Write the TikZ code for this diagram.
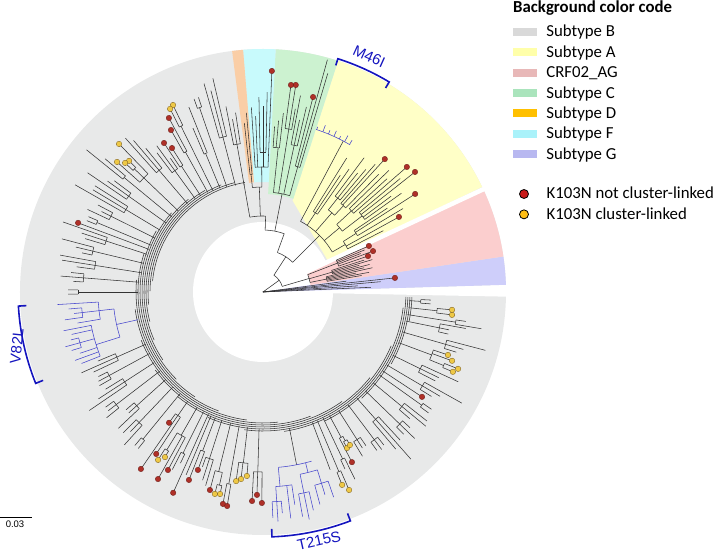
\documentclass[tikz,border=0pt]{standalone}
\usepackage{fontspec}
\setmainfont{Carlito}
\newfontfamily\arialfont{Liberation Sans}
\usepackage{tikz}
\usetikzlibrary{positioning}
\definecolor{bgB}{RGB}{232,233,233}
\definecolor{bgA}{RGB}{255,255,199}
\definecolor{bgAG}{RGB}{251,206,206}
\definecolor{bgC}{RGB}{204,242,208}
\definecolor{bgD}{RGB}{250,206,166}
\definecolor{bgF}{RGB}{200,250,252}
\definecolor{bgG}{RGB}{206,206,250}
\definecolor{legB}{RGB}{217,217,217}
\definecolor{legA}{RGB}{255,255,170}
\definecolor{legAG}{RGB}{232,184,184}
\definecolor{legC}{RGB}{170,228,188}
\definecolor{legD}{RGB}{255,192,0}
\definecolor{legF}{RGB}{170,242,250}
\definecolor{legG}{RGB}{184,184,240}
\definecolor{mutblue}{RGB}{20,20,190}
\definecolor{cladeblue}{RGB}{70,70,205}
\definecolor{dotred}{RGB}{175,48,40}
\definecolor{dotredline}{RGB}{100,25,20}
\definecolor{dotyel}{RGB}{238,200,70}
\definecolor{dotyelline}{RGB}{115,85,20}
\definecolor{legred}{RGB}{200,25,25}
\definecolor{legyel}{RGB}{255,190,20}
\tikzstyle{branch} = [draw=black!80, line width=0.55pt]
\tikzstyle{mutbranch} = [draw=cladeblue, line width=0.55pt]
\tikzstyle{notlinked} =
[circle, inner sep=0pt, minimum size=5.5pt, fill=dotred, draw=dotredline,
line width=0.3pt]
\tikzstyle{linked} =
[circle, inner sep=0pt, minimum size=5.5pt, fill=dotyel, draw=dotyelline,
line width=0.3pt]
\tikzstyle{bracket} = [draw=mutblue, line width=1.6pt]
\tikzstyle{mutlabel} =
[text=mutblue, inner sep=0pt, font=\arialfont\fontsize{15}{15}\selectfont]
\tikzstyle{swatch} =
[rectangle, minimum width=24pt, minimum height=8pt, inner sep=0pt]
\tikzstyle{legtext} =
[inner sep=0pt, text height=13pt, text depth=3pt,
font=\fontsize{16.8}{16.8}\selectfont]
\tikzstyle{legdot} =
[circle, inner sep=0pt, minimum size=9pt, draw=black, line width=0.8pt]
\tikzstyle{scaletext} =
[inner sep=0pt, font=\arialfont\fontsize{9.5}{9.5}\selectfont]
\newcommand{\subtypesector}[5]{%
  \fill[#1] (#2:#4) -- (#2:#5) arc[start angle=#2, end angle=#3, radius=#5]
    -- (#3:#4) arc[start angle=#3, end angle=#2, radius=#4] -- cycle;}

\begin{document}
\begin{tikzpicture}[x=1pt, y=1pt, node distance=20.35pt]
  \useasboundingbox (-263,-261) rectangle (452,292);
  % background sectors
  \fill[bgB] (0,0) circle (243);
  \fill[white] (0,0) circle (70);
  \subtypesector{white}{-1.1}{1.7}{0.01}{245}
  \subtypesector{bgG}{1.7}{8.4}{0.01}{243}
  \subtypesector{bgAG}{8.4}{24.5}{48}{243}
  \fill[bgA] (25.6:72) -- (25.6:243) arc[start angle=25.6, end angle=72, radius=243]
    -- (72:96) -- cycle;
  \subtypesector{bgC}{72}{87}{98}{243}
  \subtypesector{bgF}{87}{94.7}{110}{243}
  \subtypesector{bgD}{94.7}{97.3}{110}{243}
  \draw[white, line width=4.5pt] (25:46) -- (25:246);
  %
  % backbone and clade nodes
  \foreach \ga/\gb/\gr/\gs/\gf in {16.35/57/20/36/0, 11.5/21.2/48/16.35/20,
    9.5/13.5/65/11.5/48, 14.5/17.5/72/16/48, 18.9/23.5/80/21.2/48,
    45/70/42/57/20, 30/62/80/45/42, 27/32.2/95/30/80, 30.8/34/110/32.2/95,
    37.5/42.5/100/40/80, 35.5/39.6/125/37.5/100, 41/44/120/42.5/100,
    47/51.5/105/49/80, 45.5/48.7/118/47/105, 50/53/120/51.5/105,
    55/58/95/56.5/80, 70/88/62/70/42, 74.5/84/100/79/62,
    73.5/75.6/130/74.5/100, 76.8/79.2/150/78/100, 80/82.3/165/81/100,
    83.5/86/145/84/100, 88/100/76/88/62, 90.6/95.8/105/92/76,
    87.7/93.6/125/90.6/105, 88.8/91.2/140/90/125, 95.3/96.3/118/95.8/105,
    100/100/111/100/76, 135.6/136.9/178/136.25/165, 238/239.3/185/238.65/165,
    256.6/258/198/257.3/185, 298.3/299.6/170/298.95/165,
    337.2/338.5/195/337.85/180}{
    \draw[branch] (\gs:\gf) -- (\gs:\gr);
    \draw[branch] (\ga:\gr) arc[start angle=\ga, end angle=\gb, radius=\gr];
  }
  % leaves of the small subtypes
  \foreach \la/\lo/\le in {2.5/0/108, 3.7/0/95, 5/0/118, 7.4/0/84,
    9.5/65/100, 10.5/65/108, 11.5/65/95, 12.5/65/112, 13.5/65/104,
    14.5/72/110, 15.5/72/100, 16.5/72/114, 17.5/72/106, 21.5/80/105,
    22.5/80/110, 27/95/135, 30.8/110/163, 34/110/150, 35.5/125/170,
    36.8/125/160, 39.6/125/178, 42.4/120/168, 44/120/175, 45.5/118/165,
    48.7/118/170, 50/120/160, 51.5/120/152, 53/120/168, 55/95/150,
    56.5/95/140, 58/95/158, 62/80/171, 73.5/130/228, 74.5/130/241,
    76.8/150/190, 78/150/176, 79.2/150/200, 80/165/186, 83.5/145/180,
    84.8/145/172, 86/145/166, 88.8/140/200, 90/140/186, 91.2/140/195,
    92.4/125/176, 93.6/125/185, 95.3/118/180, 96.3/118/170, 281/139/176}{
    \draw[branch] (\la:\lo) -- (\la:\le);
  }
  %
  % subtype B spine
  \foreach \br in {111,113,...,149}{
    \pgfmathsetmacro\ta{98+260*((\br-110)/40)^1.4286}
    \pgfmathsetmacro\tb{min(\ta+75,358)}
    \draw[branch] (\ta:\br) arc[start angle=\ta, end angle=\tb, radius=\br];
  }
  % subtype B twigs
  \foreach \sa/\nl/\rn/\rl in {100/3/150/205, 104.5/3/160/238, 109/2/195/215,
    112.5/2/150/200, 126/3/150/190, 130.5/3/160/215, 140.5/2/180/228,
    144.5/3/165/215, 149/3/160/226, 153.5/3/170/210, 157.3/2/180/205,
    162/3/165/215, 166.5/3/175/212, 171/3/170/217, 175.5/3/180/210,
    180/2/185/205, 204/3/160/205, 208.5/3/175/200, 213/3/165/215,
    217.5/3/185/203, 222/3/170/208, 226.5/3/180/222, 230.8/2/190/212,
    243.6/2/180/205, 247.2/1/170/215, 252.2/3/175/212, 290.7/1/180/205,
    295.5/2/185/220, 302.5/3/175/200, 307/3/185/207, 311.5/3/170/226,
    316/3/190/215, 320.5/3/180/222, 324.5/2/195/220, 329.5/3/185/228,
    334/3/175/222, 344/3/190/232, 348.5/3/180/215, 351.1/2/195/225,
    356.6/2/158/170}{
    \pgfmathsetmacro\rb{110+40*((\sa-98)/260)^0.7-3}
    \pgfmathsetmacro\ha{(\nl-1)*0.65}
    \pgfmathsetmacro\aa{\sa-\ha}
    \pgfmathsetmacro\ab{\sa+\ha}
    \draw[branch] (\sa:\rb) -- (\sa:\rn);
    \draw[branch] (\aa:\rn) arc[start angle=\aa, end angle=\ab, radius=\rn];
    \foreach \j in {1,...,\nl}{
      \pgfmathsetmacro\lf{\aa+(\j-1)*1.3}
      \pgfmathsetmacro\rr{max(\rn+10,\rl-30*abs(sin(\lf*37)))}
      \draw[branch] (\lf:\rn) -- (\lf:\rr);
    }
  }
  % subtype B clades carrying K103N
  \foreach \ga/\gb/\gr in {115.7/116.9/185, 118.4/119.6/160, 122.3/123.6/150,
    134.2/138.3/165, 159.5/159.5/150, 234.3/236.6/150, 238.65/241.9/165,
    245.9/245.9/160, 248.5/249.9/170, 255/257.3/185, 259.3/260.5/195,
    261.9/265/172, 267/269.7/180, 292.3/293.5/195, 297.6/298.95/165,
    326.6/326.6/165, 337.85/341.2/180, 353.1/354.6/175}{
    \pgfmathsetmacro\gs{(\ga+\gb)/2}
    \pgfmathsetmacro\rb{110+40*((\gs-98)/260)^0.7-3}
    \draw[branch] (\gs:\rb) -- (\gs:\gr);
    \draw[branch] (\ga:\gr) arc[start angle=\ga, end angle=\gb, radius=\gr];
  }
  %
  % mutation clades (M46I, V82L, T215S)
  \foreach \ga/\gb/\gr/\gs/\gf in {59.4/71.9/171/62/171,
    186.5/197.5/150/192.5/128, 183.5/189.5/165/186.5/150,
    185/188/182/186.5/165, 191/201.5/175/197.5/150, 194/197/190/195.5/175,
    275/286/176/281/176, 273.75/278.5/195/275/176, 272.5/275/210/273.75/195,
    281.5/287/186/284/176, 280/283/205/281.5/186, 285/289/200/287/186}{
    \draw[mutbranch] (\gs:\gf) -- (\gs:\gr);
    \draw[mutbranch] (\ga:\gr) arc[start angle=\ga, end angle=\gb, radius=\gr];
  }
  \foreach \la/\lo/\le in {59.6/171/176, 61.5/171/178, 63.5/171/174,
    65.5/171/177, 67.5/171/175, 69.5/171/178, 71.7/171/174,
    183.5/165/206, 185/182/195, 186.5/182/190, 188/182/200, 189.5/165/188,
    191/175/203, 192.5/175/196, 194/190/198, 195.5/190/205, 197/190/200,
    198.5/175/193, 200/175/200, 201.5/175/195, 272.5/210/226,
    273.75/210/230, 275/210/222, 277/195/228, 278.5/195/215, 280/205/228,
    281.5/205/232, 283/205/224, 285/200/220, 287/200/212, 289/200/217}{
    \draw[mutbranch] (\la:\lo) -- (\la:\le);
  }
  %
  % K103N tips
  \foreach \ma/\mo/\me [count=\i] in {6.1/0/132.7, 18.9/80/111, 20.4/80/117.4,
    23.5/80/115.5, 28.9/95/155.3, 32.8/110/181, 38.3/125/193.7, 41/120/190.6,
    47.5/118/180.3, 75.6/130/201.3, 81/165/209.6, 82.3/165/208.9,
    87.7/125/221.2, 118.4/160/197.8, 119.6/160/186.3, 122.3/150/170.3,
    123.6/150/178.9, 159.5/150/197.4, 234.3/150/161, 235.4/150/215,
    236.6/150/194, 240.7/165/214.5, 241.9/165/201.8, 245.9/160/220,
    248.5/170/202, 249.9/170/189.5, 255/185/205, 259.3/195/215.7,
    260.5/195/217, 267/180/209.3, 268.3/180/203, 269.7/180/211,
    297.6/165/192, 326.6/165/190.5}{
    \draw[branch] (\ma:\mo) -- (\ma:\me);
    \node[notlinked] (nl\i) at (\ma:\me) {};
  }
  \foreach \ma/\mo/\me [count=\i] in {115.7/185/207.5, 116.9/185/205.3,
    134.2/165/206.5, 135.6/178/187.4, 136.9/178/188.9, 138.3/165/195.5,
    238/185/198, 239.3/185/192, 256.6/198/207.6, 258/198/206.5,
    261.9/172/191, 263.3/172/188.3, 265/172/184.7, 292.3/195/208.5,
    293.5/195/215.9, 298.3/170/177.2, 299.6/170/176, 337.2/195/206,
    338.5/195/209.7, 340/180/201.2, 341.2/180/195.4, 353.1/175/190.4,
    354.6/175/189.9}{
    \draw[branch] (\ma:\mo) -- (\ma:\me);
    \node[linked] (cl\i) at (\ma:\me) {};
  }
  %
  % brackets and mutation labels
  \draw[bracket] (59:238) -- (59:245) arc[start angle=59, end angle=72.2, radius=245]
    -- (72.2:238);
  \draw[bracket] (183.3:237) -- (183.3:245)
    arc[start angle=183.3, end angle=201.9, radius=245] -- (201.9:237);
  \draw[bracket] (272.1:237) -- (272.1:245)
    arc[start angle=272.1, end angle=290.9, radius=245] -- (290.9:237);
  \node[mutlabel, rotate=-24.25] (lblM) at (65.75:258.5) {M46I};
  \node[mutlabel, rotate=84] (lblV) at (192.4:252) {V82L};
  \node[mutlabel, rotate=12.7] (lblT) at (-77.3:255) {T215S};
  %
  % scale bar
  \coordinate (sbl) at (-263,-225);
  \coordinate (sbr) at (-231,-225);
  \draw[line width=0.6pt] (sbl) -- (sbr);
  \node[scaletext] (sblabel) at (-248,-232) {0.03};
  %
  % legend
  \node[anchor=base west, inner sep=0pt, font=\bfseries\fontsize{16.8}{16.8}\selectfont]
    (legtitle) at (250,279.5) {Background color code};
  \node[swatch, fill=legB] (swB) at (262,260) {};
  \node[swatch, fill=legA, below of=swB] (swA) {};
  \node[swatch, fill=legAG, below of=swA] (swAG) {};
  \node[swatch, fill=legC, below of=swAG] (swC) {};
  \node[swatch, fill=legD, below of=swC] (swD) {};
  \node[swatch, fill=legF, below of=swD] (swF) {};
  \node[swatch, fill=legG, below of=swF] (swG) {};
  \node[legtext, right=9pt of swB] (txtB) {Subtype B};
  \node[legtext, right=9pt of swA] (txtA) {Subtype A};
  \node[legtext, right=9pt of swAG] (txtAG) {CRF02\_AG};
  \node[legtext, right=9pt of swC] (txtC) {Subtype C};
  \node[legtext, right=9pt of swD] (txtD) {Subtype D};
  \node[legtext, right=9pt of swF] (txtF) {Subtype F};
  \node[legtext, right=9pt of swG] (txtG) {Subtype G};
  \node[legdot, fill=legred] (dotnl) at (261,98) {};
  \node[legdot, fill=legyel, below of=dotnl] (dotcl) {};
  \node[legtext, right=17.5pt of dotnl] (txtnl) {K103N not cluster-linked};
  \node[legtext, right=17.5pt of dotcl] (txtcl) {K103N cluster-linked};
\end{tikzpicture}
\end{document}
